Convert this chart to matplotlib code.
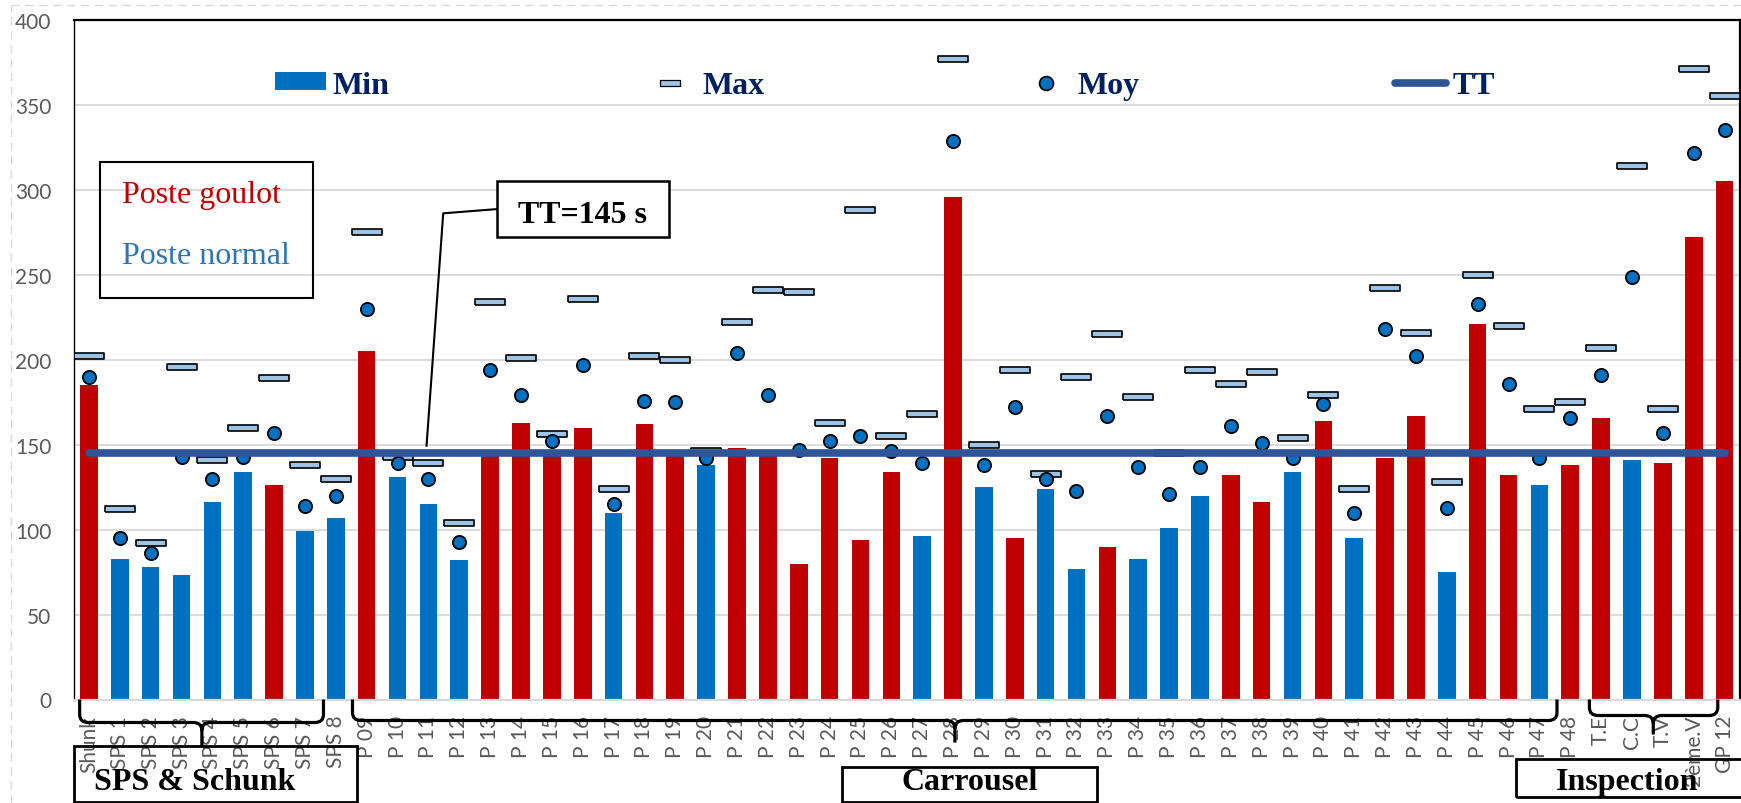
import numpy as np
import matplotlib
matplotlib.use('Agg')
import matplotlib.pyplot as plt
import matplotlib.transforms as mtransforms
from matplotlib.lines import Line2D
from matplotlib.patches import Patch, Rectangle, PathPatch
from matplotlib.path import Path

# data (seconds)
postes = ['Shunk', 'SPS 1', 'SPS 2', 'SPS 3', 'SPS 4', 'SPS 5', 'SPS 6', 'SPS 7', 'SPS 8',
          'P 09', 'P 10', 'P 11', 'P 12', 'P 13', 'P 14', 'P 15', 'P 16', 'P 17', 'P 18',
          'P 19', 'P 20', 'P 21', 'P 22', 'P 23', 'P 24', 'P 25', 'P 26', 'P 27', 'P 28',
          'P 29', 'P 30', 'P 31', 'P 32', 'P 33', 'P 34', 'P 35', 'P 36', 'P 37', 'P 38',
          'P 39', 'P 40', 'P 41', 'P 42', 'P 43', 'P 44', 'P 45', 'P 46', 'P 47', 'P 48',
          'T.E', 'C.C', 'T.V', '2ème.V', 'GP 12']
t_min = [185, 83, 78, 73, 116, 134, 126, 99, 107,
         205, 131, 115, 82, 145, 163, 145, 160, 110, 162,
         145, 138, 148, 145, 80, 142, 94, 134, 96, 296,
         125, 95, 124, 77, 90, 83, 101, 120, 132, 116,
         134, 164, 95, 142, 167, 75, 221, 132, 126, 138,
         166, 141, 139, 272, 305]
t_max = [202, 112, 92, 196, 141, 160, 189, 138, 130,
         275, 143, 139, 104, 234, 201, 156, 236, 124, 202,
         200, 146, 222, 241, 240, 163, 288, 155, 168, 377,
         150, 194, 133, 190, 215, 178, 145, 194, 186, 193,
         154, 179, 124, 242, 216, 128, 250, 220, 171, 175,
         207, 314, 171, 371, 355]
t_moy = [190, 95, 86, 143, 130, 143, 157, 114, 120,
         230, 139, 130, 93, 194, 179, 152, 197, 115, 176,
         175, 142, 204, 179, 147, 152, 155, 146, 139, 329,
         138, 172, 130, 123, 167, 137, 121, 137, 161, 151,
         142, 174, 110, 218, 202, 113, 233, 186, 142, 166,
         191, 249, 157, 322, 335]
# 1 = poste goulot, 0 = poste normal
goulot = [1, 0, 0, 0, 0, 0, 1, 0, 0,
          1, 0, 0, 0, 1, 1, 1, 1, 0, 1,
          1, 0, 1, 1, 1, 1, 1, 1, 0, 1,
          0, 1, 0, 0, 1, 0, 0, 0, 1, 1,
          0, 1, 0, 1, 1, 0, 1, 1, 0, 1,
          1, 0, 1, 1, 1]
TT = 145

RED = '#C00000'
BLUE = '#0070C0'
LIGHT = '#9DC3E6'
NAVY = '#002060'
GREY = '#595959'
SERIF = 'Liberation Serif'

plt.rcParams['font.family'] = ['Lato', 'DejaVu Sans']

W, H = 1741, 804
fig = plt.figure(figsize=(W / 100, H / 100), dpi=100)
ax = fig.add_axes([73.5 / W, 1 - 700.5 / H, (1740 - 73.5) / W, 679.5 / H])

x = np.arange(len(postes))
colors = [RED if g else BLUE for g in goulot]

ax.bar(x, t_min, width=0.57, color=colors, zorder=2)

rect = [(-0.5, -0.11), (0.5, -0.11), (0.5, 0.11), (-0.5, 0.11), (-0.5, -0.11)]
ax.plot(x, t_max, ls='none', marker=rect, markersize=22, mfc=LIGHT, mec='black', mew=1.2, zorder=3)
ax.plot(x, t_moy, ls='none', marker='o', markersize=9.5, mfc=BLUE, mec='black', mew=1.3, zorder=4)
ax.plot(x, [TT] * len(x), color='#2F5597', lw=5.5, solid_capstyle='round', zorder=5)

ax.set_xlim(-0.5, len(postes) - 0.5)
ax.set_ylim(0, 400)
ax.set_yticks(np.arange(0, 401, 50))
ax.set_xticks(x)
ax.set_xticklabels(postes, rotation=90, va='top', ha='center')
ax.tick_params(axis='x', length=0, pad=11, labelsize=15, labelcolor=GREY)
ax.tick_params(axis='y', length=0, pad=16, labelsize=15, labelcolor=GREY)
ax.yaxis.grid(True, color='#D9D9D9', lw=1.3)
ax.set_axisbelow(True)
ax.spines['top'].set_linewidth(1.6)
ax.spines['right'].set_linewidth(1.6)
ax.spines['left'].set_linewidth(1.0)
ax.spines['bottom'].set_color('#D9D9D9')
ax.spines['bottom'].set_linewidth(1.6)

# legend along the top
rect_leg = [(-0.5, -0.16), (0.5, -0.16), (0.5, 0.16), (-0.5, 0.16), (-0.5, -0.16)]
handles = [Patch(facecolor=BLUE, label='Min'),
           Line2D([], [], ls='none', marker=rect_leg, markersize=14, mfc=LIGHT, mec='black', mew=0.9, label='Max'),
           Line2D([], [], ls='none', marker='o', markersize=10, mfc=BLUE, mec='black', mew=1.2, label='Moy'),
           Line2D([], [], color='#2F5597', lw=5.5, solid_capstyle='round', label='TT')]
leg = ax.legend(handles=handles, ncol=4, loc='center', bbox_to_anchor=(0.487, 0.904),
                frameon=False, borderpad=0, borderaxespad=0, handlelength=1.6, handleheight=0.5,
                handletextpad=0.2, columnspacing=8.0,
                prop={'family': SERIF, 'weight': 'bold', 'size': 23})
for t in leg.get_texts():
    t.set_color(NAVY)

# poste goulot / normal box
ax.add_patch(Rectangle((0.016, 0.591), 0.128, 0.2005, transform=ax.transAxes, fill=False,
                       ec='black', lw=1.5, zorder=6))
ax.text(0.029, 0.7326, 'Poste goulot', transform=ax.transAxes, color=RED, family=SERIF,
        size=23, va='baseline', zorder=6)
ax.text(0.029, 0.6424, 'Poste normal', transform=ax.transAxes, color='#2E75B6', family=SERIF,
        size=23, va='baseline', zorder=6)

# TT callout
ax.plot([13.23, 11.48, 10.94], [288.7, 286.2, 149.4], color='black', lw=1.5, zorder=6)
ax.add_patch(Rectangle((0.2539, 0.6811), 0.1036, 0.0815, transform=ax.transAxes, fc='white',
                       ec='black', lw=1.8, zorder=7))
ax.text(0.3057, 0.7024, 'TT=145 s', transform=ax.transAxes, family=SERIF, weight='bold',
        size=23, ha='center', va='baseline', zorder=8)

# braces under the groups
btrans = mtransforms.blended_transform_factory(ax.transData, fig.transFigure)


def brace(x0, x1, xm, d1, d2):
    yf = lambda d: (H - 700.5 - d) / H
    rx, r = 0.28, 8
    verts = [(x0, yf(0)), (x0, yf(d1 - r)), (x0, yf(d1)), (x0 + rx, yf(d1)),
             (xm - rx, yf(d1)), (xm, yf(d1)), (xm, yf(d1 + r)), (xm, yf(d2)),
             (x1, yf(0)), (x1, yf(d1 - r)), (x1, yf(d1)), (x1 - rx, yf(d1)),
             (xm + rx, yf(d1)), (xm, yf(d1)), (xm, yf(d1 + r))]
    codes = [Path.MOVETO, Path.LINETO, Path.CURVE3, Path.CURVE3,
             Path.LINETO, Path.CURVE3, Path.CURVE3, Path.LINETO,
             Path.MOVETO, Path.LINETO, Path.CURVE3, Path.CURVE3,
             Path.LINETO, Path.CURVE3, Path.CURVE3]
    fig.add_artist(PathPatch(Path(verts, codes), fill=False, ec='black', lw=2.3,
                             transform=btrans, zorder=6))


brace(-0.3, 7.6, 3.66, 23, 47)
brace(8.54, 47.57, 28.06, 21, 43)
brace(48.62, 52.78, 50.69, 16, 35)


def group_box(x0, x1, y0, y1, label, xt):
    fig.add_artist(Rectangle((x0 / W, 1 - y1 / H), (x1 - x0) / W, (y1 - y0) / H, fill=False,
                             ec='black', lw=2.0, transform=fig.transFigure, zorder=6))
    fig.text(xt / W, 1 - 790 / H, label, family=SERIF, weight='bold', size=23,
             ha='center', va='baseline', zorder=7)


group_box(74, 356.7, 747, 802.7, 'SPS & Schunk', 195)
group_box(841.8, 1097, 768.3, 802.7, 'Carrousel', 970)
group_box(1515.6, 1745, 760, 798.3, 'Inspection', 1627)

# dashed chart-area border
fig.add_artist(Line2D([10.7 / W, 1], [1 - 6 / H, 1 - 6 / H], transform=fig.transFigure,
                      color='#D9D9D9', lw=1.0, ls=(0, (6, 4))))
fig.add_artist(Line2D([10.7 / W, 10.7 / W], [0, 1 - 6 / H], transform=fig.transFigure,
                      color='#D9D9D9', lw=1.0, ls=(0, (6, 4))))

fig.savefig('out.png', dpi=100)
